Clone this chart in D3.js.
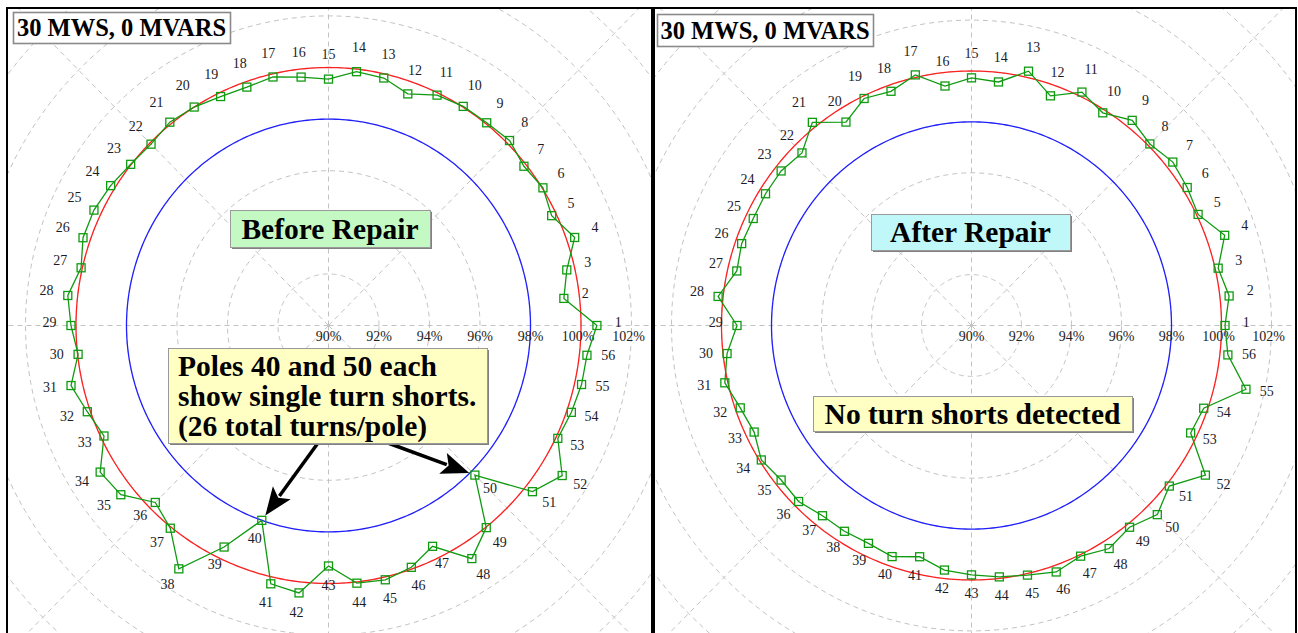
<!DOCTYPE html>
<html>
<head>
<meta charset="utf-8">
<script src="https://cdn.jsdelivr.net/npm/d3@7/dist/d3.min.js"></script>
<style>
body { margin: 0; background: #fff; }
svg text { font-family: "Liberation Serif", "Times New Roman", serif; }
</style>
</head>
<body>
<svg id="chart" width="1298" height="633"></svg>
<script>
// pole numbers, 56 poles around the rotor
var poles = d3.range(1, 57);

// air gap flux per pole, % of average
var beforeValues = [100.63, 99.38, 99.68, 100.33, 99.81, 100.03, 99.90, 100.14, 100.05, 100.03,
                    99.91, 99.51, 99.84, 99.90, 99.55, 99.69, 99.88, 99.79, 99.85, 100.00,
                    100.08, 99.94, 100.02, 100.19, 100.31, 100.30, 100.05, 100.39, 100.20, 99.98,
                    100.46, 100.12, 99.87, 100.68, 100.52, 99.70, 100.05, 101.14, 99.53, 98.00,
                    100.27, 100.43, 99.32, 100.05, 100.11, 99.93, 99.50, 100.67, 100.02, 98.20,
                    100.33, 100.93, 100.08, 100.19, 100.28, 100.30];

var afterValues = [100.14, 100.37, 100.12, 100.73, 100.06, 100.19, 100.30, 100.09, 100.31, 99.87,
                   100.18, 99.56, 100.25, 99.63, 99.73, 99.47, 100.10, 99.75, 99.90, 99.44,
                   100.21, 99.59, 99.74, 99.73, 99.69, 99.74, 99.63, 100.20, 99.38, 99.84,
                   100.12, 99.80, 99.65, 99.93, 99.74, 99.78, 99.56, 99.55, 99.50, 99.62,
                   99.32, 99.67, 99.80, 99.94, 100.06, 100.26, 100.06, 100.35, 100.14, 100.51,
                   100.12, 101.05, 99.73, 99.84, 101.26, 100.32];

var tickValues = [90, 92, 94, 96, 98, 100, 102];
var tickLabels = ["90%", "92%", "94%", "96%", "98%", "100%", "102%"];
var gridRings = [92, 94, 96, 98, 100, 102, 104, 106, 108, 110, 112, 114];
var spokeAngles = [0, 45, 90, 135, 180, 225, 270, 315];
var referenceLevel = 100;
var alarmLevel = 98;

var titleText = "30 MWS, 0 MVARS";
var beforeNote = ["Before Repair"];
var afterNote = ["After Repair"];
var beforeCallout = ["Poles 40 and 50 each", "show single turn shorts.", "(26 total turns/pole)"];
var afterCallout = ["No turn shorts detected"];
var shortedPoles = [40, 50];

var svg = d3.select("#chart");

var panels = [
  {x0: 7, x1: 652, cx: 328.5, cy: 325.5, rx100: 252.5, ry100: 258, values: beforeValues,
   title: [13, 12, 217, 31], note: beforeNote, noteBox: [230, 210, 200, 37], noteFill: "#c4f9c4",
   callout: beforeCallout, calloutBox: [168, 348, 319, 95], arrows: true},
  {x0: 654, x1: 1296, cx: 971.5, cy: 325.5, rx100: 250, ry100: 254.5, values: afterValues,
   title: [657, 14, 216, 32], note: afterNote, noteBox: [871, 214, 199, 36], noteFill: "#c0f8fa",
   callout: afterCallout, calloutBox: [813, 396, 319, 35], arrows: false}
];

var angle = d3.scaleLinear().domain([1, 57]).range([0, 2 * Math.PI]);

panels.forEach(function(p, i) {
  var rx = d3.scaleLinear().domain([90, 100]).range([0, p.rx100]);
  var ry = d3.scaleLinear().domain([90, 100]).range([0, p.ry100]);
  function px(v, a) { return p.cx + rx(v) * Math.cos(a); }
  function py(v, a) { return p.cy - ry(v) * Math.sin(a); }

  var clipId = "clip" + i;
  svg.append("clipPath").attr("id", clipId)
    .append("rect").attr("x", p.x0).attr("y", 8).attr("width", p.x1 - p.x0).attr("height", 700);

  var g = svg.append("g").attr("clip-path", "url(#" + clipId + ")");

  // ellipse helper for rings
  var full = d3.range(0, 361).map(function(d) { return d * Math.PI / 180; });
  function ring(v) {
    return d3.line().x(function(a) { return px(v, a); }).y(function(a) { return py(v, a); })(full) + "Z";
  }

  // grid rings
  g.selectAll(".grid").data(gridRings).enter().append("path")
    .attr("d", ring)
    .attr("fill", "none").attr("stroke", "#c2c2c2").attr("stroke-width", 1)
    .attr("stroke-dasharray", "5,4");

  // spokes
  g.selectAll(".spoke").data(spokeAngles).enter().append("line")
    .attr("x1", p.cx).attr("y1", p.cy)
    .attr("x2", function(d) { return px(114, d * Math.PI / 180); })
    .attr("y2", function(d) { return py(114, d * Math.PI / 180); })
    .attr("stroke", "#c2c2c2").attr("stroke-width", 1).attr("stroke-dasharray", "5,4");

  // reference and alarm circles
  g.append("path").attr("d", ring(alarmLevel)).attr("fill", "none").attr("stroke", "#2020ff").attr("stroke-width", 1.3);
  g.append("path").attr("d", ring(referenceLevel)).attr("fill", "none").attr("stroke", "#ff2020").attr("stroke-width", 1.3);

  // axis tick labels
  g.selectAll(".tick").data(tickValues).enter().append("text")
    .attr("x", function(d) { return p.cx + rx(d) - (d >= 100 ? 3 : 0); })
    .attr("y", p.cy + 15)
    .attr("text-anchor", "middle")
    .attr("font-size", 14).attr("fill", "#222")
    .text(function(d, j) { return tickLabels[j]; });

  // pole data line
  var pts = poles.map(function(k, j) {
    var a = angle(k);
    return {pole: k, v: p.values[j], x: px(p.values[j], a), y: py(p.values[j], a), a: a};
  });
  g.append("path")
    .attr("d", d3.line().x(function(d) { return d.x; }).y(function(d) { return d.y; })(pts) + "Z")
    .attr("fill", "none").attr("stroke", "#109a10").attr("stroke-width", 1.3);

  g.selectAll(".sq").data(pts).enter().append("rect")
    .attr("x", function(d) { return d.x - 4; }).attr("y", function(d) { return d.y - 4; })
    .attr("width", 8).attr("height", 8)
    .attr("fill", "none").attr("stroke", "#109a10").attr("stroke-width", 1.3);

  // pole labels
  g.selectAll(".pl").data(pts).enter().append("text")
    .attr("x", function(d) { return px(d.v + 0.85, d.a); })
    .attr("y", function(d) { return py(d.v + 0.85, d.a) - 3; })
    .attr("text-anchor", "middle").attr("dy", "0.35em")
    .attr("font-size", 14).attr("fill", "#1c1c28")
    .text(function(d) { return d.pole; });

  // title box
  var t = p.title;
  svg.append("rect").attr("x", t[0] + 0.5).attr("y", t[1] + 0.5).attr("width", t[2]).attr("height", t[3])
    .attr("fill", "#fff").attr("stroke", "#8a8a8a").attr("stroke-width", 1.6);
  svg.append("text").attr("x", t[0] + t[2] / 2).attr("y", t[1] + t[3] / 2)
    .attr("dy", "0.35em").attr("text-anchor", "middle")
    .attr("font-size", 24.5).attr("font-weight", "bold").attr("fill", "#000")
    .text(titleText);

  // note boxes
  function box(b, fill, lines) {
    svg.append("rect").attr("x", b[0] + 2).attr("y", b[1] + 2).attr("width", b[2]).attr("height", b[3])
      .attr("fill", "#808080");
    svg.append("rect").attr("x", b[0] + 0.5).attr("y", b[1] + 0.5).attr("width", b[2]).attr("height", b[3])
      .attr("fill", fill).attr("stroke", "#9a9a9a").attr("stroke-width", 1);
    var lh = 30;
    var top = b[1] + b[3] / 2 - (lines.length - 1) * lh / 2;
    svg.append("g").selectAll("text").data(lines).enter().append("text")
      .attr("x", lines.length > 1 ? b[0] + 10 : b[0] + b[2] / 2)
      .attr("text-anchor", lines.length > 1 ? "start" : "middle")
      .attr("y", function(d, j) { return top + j * lh; })
      .attr("dy", "0.35em")
      .attr("font-size", 29.5).attr("font-weight", "bold").attr("fill", "#000")
      .text(function(d) { return d; });
  }
  box(p.noteBox, p.noteFill, p.note);

  // arrows from callout to shorted poles
  if (p.arrows) {
    var b = p.calloutBox;
    var tails = [[b[0] + 150, b[1] + b[3]], [b[0] + 220, b[1] + b[3]]];
    shortedPoles.forEach(function(k, j) {
      var d = pts[k - 1];
      var tx = tails[j][0], ty = tails[j][1];
      var dx = d.x - tx, dy = d.y - ty, len = Math.sqrt(dx * dx + dy * dy);
      var ux = dx / len, uy = dy / len;
      var tipX = d.x - ux * 6, tipY = d.y - uy * 6;
      var baseX = tipX - ux * 28, baseY = tipY - uy * 28;
      svg.append("line").attr("x1", tx).attr("y1", ty).attr("x2", baseX + ux * 4).attr("y2", baseY + uy * 4)
        .attr("stroke", "#000").attr("stroke-width", 3.5);
      svg.append("path")
        .attr("d", "M" + tipX + "," + tipY +
                   "L" + (baseX - uy * 11) + "," + (baseY + ux * 11) +
                   "L" + (baseX + ux * 6) + "," + (baseY + uy * 6) +
                   "L" + (baseX + uy * 11) + "," + (baseY - ux * 11) + "Z")
        .attr("fill", "#000");
    });
  }
  box(p.calloutBox, "#ffffc4", p.callout);

  // panel border
  svg.append("rect").attr("x", p.x0).attr("y", 8).attr("width", p.x1 - p.x0).attr("height", 700)
    .attr("fill", "none").attr("stroke", "#000").attr("stroke-width", 2);
});
</script>
</body>
</html>
